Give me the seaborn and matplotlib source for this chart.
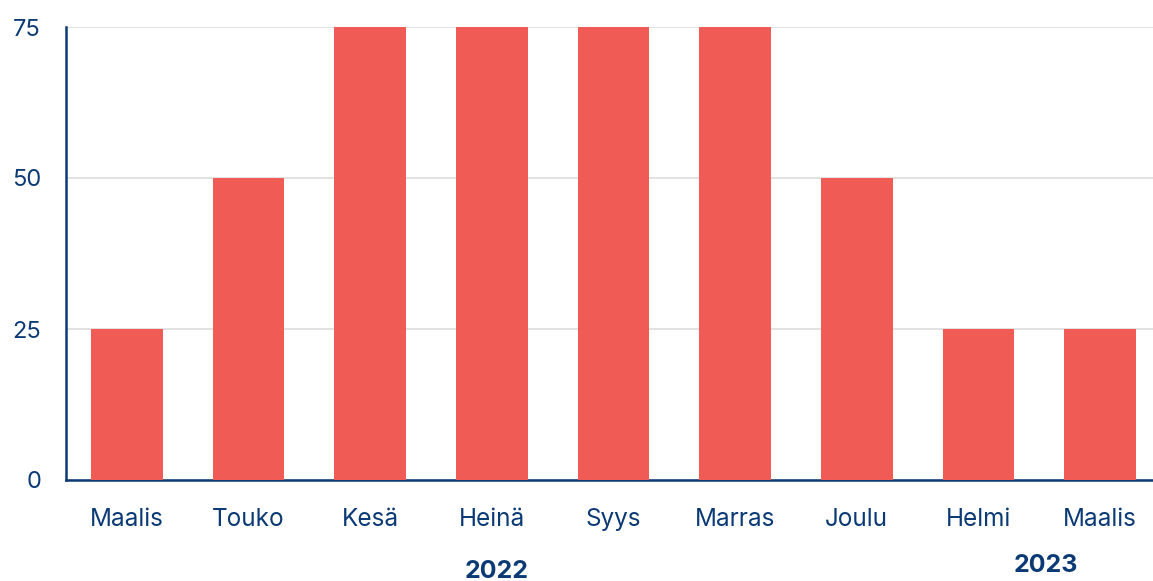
import matplotlib
matplotlib.use("Agg")
import matplotlib.pyplot as plt
import numpy as np
import pandas as pd
import seaborn as sns

# data
months = ["Maalis", "Touko", "Kesä", "Heinä", "Syys", "Marras", "Joulu", "Helmi", "Maalis"]
values = [25, 50, 75, 75, 75, 75, 50, 25, 25]
y_ticks = [0, 25, 50, 75]
years = ["2022", "2023"]

navy = "#0b3a75"
bar_color = "#f05b55"

sns.set_theme(style="white")
plt.rcParams["font.family"] = ["Inter", "DejaVu Sans"]

df = pd.DataFrame({"pos": range(len(months)), "value": values})

fig = plt.figure(figsize=(11.53, 5.81), dpi=100)
ax = fig.add_axes([66 / 1153, 1 - 480 / 581, (1161 - 66) / 1153, (480 - 27) / 581])

ax.bar(df["pos"], df["value"], width=0.59, color=bar_color, linewidth=0, zorder=3)

ax.set_xlim(-0.5, len(months) - 0.5)
ax.set_ylim(0, 75)
ax.set_yticks(y_ticks)
ax.set_yticklabels([str(t) for t in y_ticks], fontsize=17, color=navy)
ax.yaxis.grid(True, color="#dddddd", linewidth=1.2, zorder=0)
ax.tick_params(axis="y", length=0, pad=18)

ax.set_xticks(df["pos"])
ax.set_xticklabels(months, fontsize=17.5, color=navy)
ax.tick_params(axis="x", which="major", length=0, pad=20)
ax.set_xticks(np.arange(-0.5, len(months)), minor=True)
ax.tick_params(axis="x", which="minor", length=9, width=1.5, color=navy, direction="out")

for side in ["top", "right"]:
    ax.spines[side].set_visible(False)
for side in ["left", "bottom"]:
    ax.spines[side].set_color(navy)
    ax.spines[side].set_linewidth(1.8)

fig.text(497 / 1153, 1 - 571 / 581, years[0], ha="center", va="center",
         fontsize=18, fontweight="bold", color=navy)
fig.text(1046 / 1153, 1 - 566 / 581, years[1], ha="center", va="center",
         fontsize=18, fontweight="bold", color=navy)

fig.savefig("out.png", dpi=100)
